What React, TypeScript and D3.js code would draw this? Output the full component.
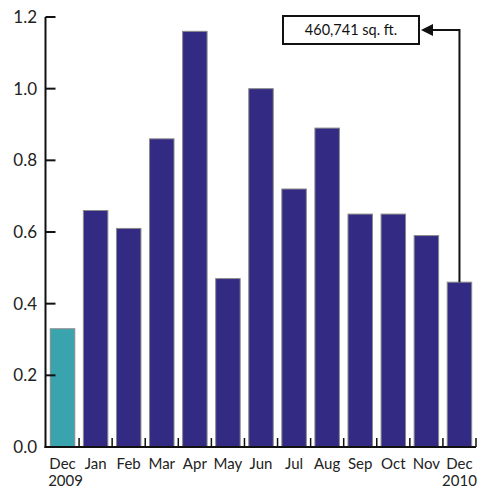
import React from "react";
import * as d3 from "d3";

const months = ["Dec", "Jan", "Feb", "Mar", "Apr", "May", "Jun", "Jul", "Aug", "Sep", "Oct", "Nov", "Dec"];
const keys = months.map((m, i) => `${m}-${i}`);
const values = [0.33, 0.66, 0.61, 0.86, 1.16, 0.47, 1.0, 0.72, 0.89, 0.65, 0.65, 0.59, 0.46];
const yTicks = [0, 0.2, 0.4, 0.6, 0.8, 1.0, 1.2];
const yearLabels = ["2009", "2010"];
const annotation = "460,741 sq. ft.";

const W = 485, H = 491;
const FONT = "Lato, 'Open Sans', sans-serif";

export default function App() {
  const x = d3.scaleBand<string>().domain(keys).range([46, 476]).paddingInner(0.26).paddingOuter(0.13);
  const step = x.step();
  const y = d3.scaleLinear().domain([0, 1.2]).range([447, 17]);
  const axisX = 45.5;
  const lastKey = keys[keys.length - 1];
  const lastCx = x(lastKey)! + x.bandwidth() / 2;
  const lastTop = y(values[values.length - 1]);
  const boxX = 283, boxY = 16, boxW = 136, boxH = 28;
  const lineY = boxY + boxH / 2;
  const boundaries = d3.range(1, keys.length + 1).map((i) => x.range()[0] + i * step);
  return (
    <svg width={W} height={H} style={{ position: "absolute", left: 0, top: 0 }}>
      <rect width={W} height={H} fill="#fff" />
      {values.map((v, i) => (
        <rect
          key={keys[i]}
          x={x(keys[i])}
          y={y(v)}
          width={x.bandwidth()}
          height={y(0) - y(v)}
          fill={i === 0 ? "#3AA4AE" : "#332A84"}
          stroke="#8a8a8a"
          strokeWidth={1}
        />
      ))}
      {/* y axis */}
      <line x1={axisX} x2={axisX} y1={y(1.2)} y2={y(0) + 1} stroke="#111" strokeWidth={2} />
      {yTicks.map((t) => (
        <g key={t}>
          <line x1={axisX} x2={axisX + 10} y1={y(t)} y2={y(t)} stroke="#111" strokeWidth={2} />
          <text x={37} y={y(t)} dy="0.35em" textAnchor="end" fontFamily={FONT} fontSize={17} fill="#222">
            {t.toFixed(1)}
          </text>
        </g>
      ))}
      {/* x axis */}
      <line x1={axisX - 1} x2={476} y1={y(0)} y2={y(0)} stroke="#111" strokeWidth={2} />
      {boundaries.map((b, i) => (
        <line key={i} x1={b} x2={b} y1={y(0)} y2={y(0) - 9} stroke="#111" strokeWidth={1.5} />
      ))}
      {months.map((m, i) => (
        <text
          key={keys[i]}
          x={x(keys[i])! + x.bandwidth() / 2}
          y={469}
          textAnchor="middle"
          fontFamily={FONT}
          fontSize={15}
          fill="#222"
        >
          {m}
        </text>
      ))}
      <text x={x(keys[0])! + x.bandwidth() / 2 + 3} y={486} textAnchor="middle" fontFamily={FONT} fontSize={15} fill="#222">
        {yearLabels[0]}
      </text>
      <text x={lastCx} y={486} textAnchor="middle" fontFamily={FONT} fontSize={15} fill="#222">
        {yearLabels[1]}
      </text>
      {/* annotation */}
      <rect x={boxX} y={boxY} width={boxW} height={boxH} fill="#fff" stroke="#111" strokeWidth={2} />
      <text x={boxX + boxW / 2} y={lineY} dy="0.35em" textAnchor="middle" fontFamily={FONT} fontSize={14.5} fill="#111">
        {annotation}
      </text>
      <polyline
        points={`${lastCx},${lastTop} ${lastCx},${lineY} ${boxX + boxW + 12},${lineY}`}
        fill="none"
        stroke="#111"
        strokeWidth={2}
      />
      <path
        d={`M${boxX + boxW + 2},${lineY} L${boxX + boxW + 14},${lineY - 6} L${boxX + boxW + 14},${lineY + 6} Z`}
        fill="#111"
      />
    </svg>
  );
}
